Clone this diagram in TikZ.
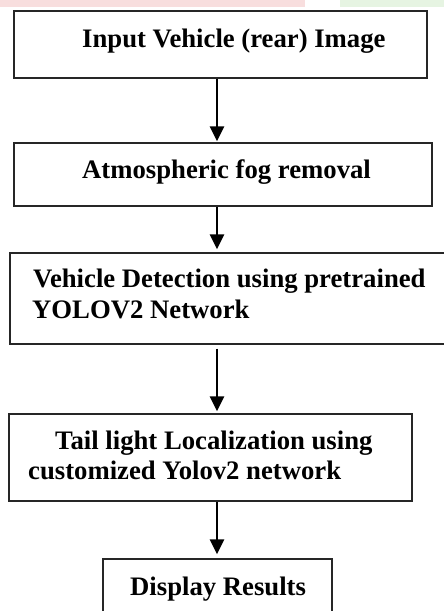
\documentclass[tikz,border=0pt]{standalone}
\usepackage{fontspec}
\setmainfont{Liberation Serif}
\usetikzlibrary{arrows.meta}
\definecolor{bandpink}{RGB}{248,222,222}
\definecolor{bandgreen}{RGB}{230,244,226}
\tikzset{
  box/.style={draw=black!85, line width=1.3pt, rectangle, inner sep=0pt, fill=white},
  lbl/.style={inner sep=0pt, anchor=base west, font=\fontsize{26.7}{30}\selectfont\bfseries},
  flow/.style={line width=2.6pt, -{Triangle[length=15pt,width=14pt]}},
}
\begin{document}
\begin{tikzpicture}[x=1pt, y=-1pt]
\useasboundingbox (0,0) rectangle (444,611);
\fill[white] (0,0) rectangle (444,611);
% faint coloured band along the top edge
\fill[bandpink] (0,0) rectangle (305,7);
\fill[bandgreen] (340,0) rectangle (444,7);

% process boxes
\node[box, minimum width=413pt, minimum height=67pt] (b1) at (220.5,44.5) {};
\node[box, minimum width=418pt, minimum height=63pt] (b2) at (223,174.5) {};
\node[box, minimum width=440pt, minimum height=91pt] (b3) at (230,298.5) {};
\node[box, minimum width=403pt, minimum height=87pt] (b4) at (210.5,457.5) {};
\node[box, minimum width=229pt, minimum height=61pt] (b5) at (217.5,589.5) {};

% box texts
\node[lbl] (t1) at (82,47) {Input Vehicle (rear) Image};
\node[lbl] (t2) at (82,178) {Atmospheric fog removal};
\node[lbl] (t3a) at (33,287) {Vehicle Detection using pretrained};
\node[lbl] (t3b) at (32,318) {YOLOV2 Network};
\node[lbl] (t4a) at (55,449) {Tail light Localization using};
\node[lbl] (t4b) at (28,479) {customized Yolov2 network};
\node[lbl] (t5) at (130,595) {Display Results};

% connectors along the common axis
\coordinate (ax) at (217,0);
\draw[flow, shorten >=1pt] (b1.south -| ax) -- (b2.north -| ax);
\draw[flow, shorten >=3pt] (b2.south -| ax) -- (b3.north -| ax);
\draw[flow, shorten <=4pt, shorten >=2pt] (b3.south -| ax) -- (b4.north -| ax);
\draw[flow, shorten >=4pt] (b4.south -| ax) -- (b5.north -| ax);
\end{tikzpicture}
\end{document}
